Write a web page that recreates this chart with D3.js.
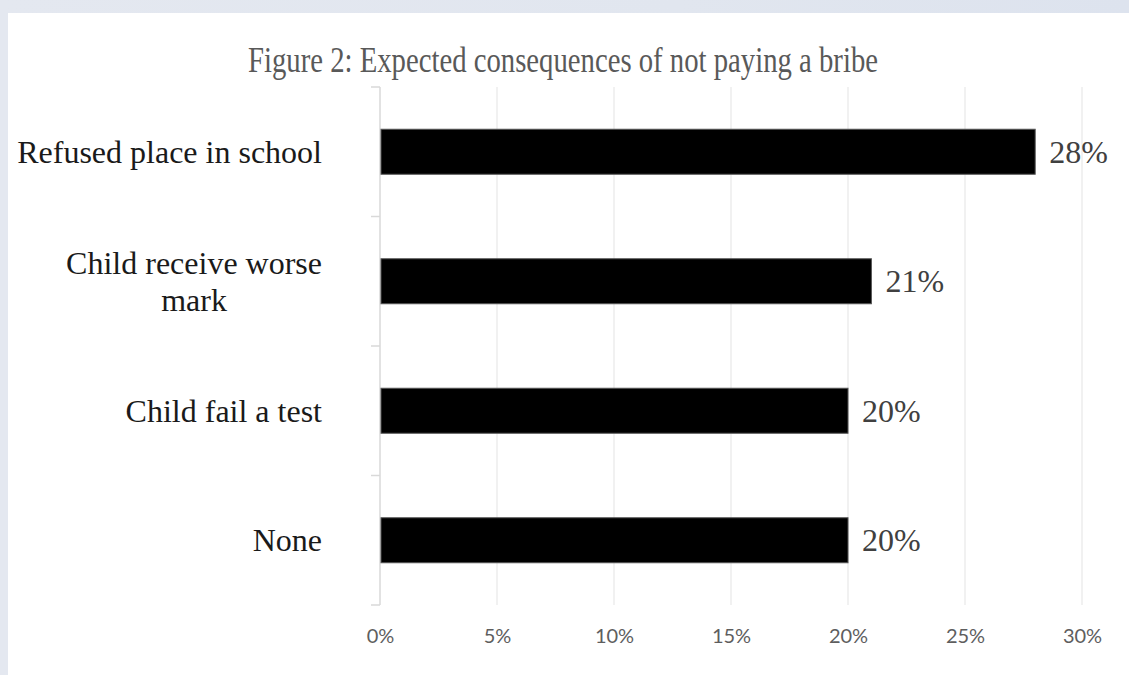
<!DOCTYPE html>
<html>
<head>
<meta charset="utf-8">
<script src="https://cdn.jsdelivr.net/npm/d3@7"></script>
<style>
  html, body { margin: 0; padding: 0; background: #e2e7f0; }
  svg { display: block; }
</style>
</head>
<body>
<svg id="chart" width="1129" height="675"></svg>
<script>
const title = "Figure 2: Expected consequences of not paying a bribe";
const categories = ["Refused place in school", "Child receive worse mark", "Child fail a test", "None"];
const categoryLines = [["Refused place in school"], ["Child receive worse", "mark"], ["Child fail a test"], ["None"]];
const values = [28, 21, 20, 20];
const valueLabels = ["28%", "21%", "20%", "20%"];
const tickValues = [0, 5, 10, 15, 20, 25, 30];
const tickLabels = ["0%", "5%", "10%", "15%", "20%", "25%", "30%"];

(function () {
const svg = d3.select("#chart");
const W = 1129, H = 675;

// background + white panel
const defs = svg.append("defs");
const grad = defs.append("linearGradient").attr("id", "bg").attr("x1", 0).attr("x2", 1).attr("y1", 0).attr("y2", 0);
grad.append("stop").attr("offset", "0%").attr("stop-color", "#e4e8f0");
grad.append("stop").attr("offset", "60%").attr("stop-color", "#e1e6ef");
grad.append("stop").attr("offset", "100%").attr("stop-color", "#dde3ee");
svg.append("rect").attr("width", W).attr("height", H).attr("fill", "url(#bg)");
svg.append("rect").attr("x", 8).attr("y", 13).attr("width", W - 8).attr("height", H - 13).attr("fill", "#ffffff");

const pLeft = 380, pRight = 1082, pTop = 87, pBottom = 605;

const x = d3.scaleLinear().domain([0, 30]).range([pLeft, pRight]);
const y = d3.scaleBand().domain(categories).range([pTop, pBottom]).paddingInner(0.6525).paddingOuter(0.6525 / 2);

// gridlines
svg.append("g").selectAll("line").data(tickValues.slice(1)).join("line")
  .attr("x1", d => x(d)).attr("x2", d => x(d))
  .attr("y1", pTop).attr("y2", pBottom)
  .attr("stroke", "#ececec").attr("stroke-width", 1.5);

// x tick labels
const xAxis = d3.axisBottom(x).tickValues(tickValues).tickFormat((d, i) => tickLabels[i]).tickSize(0).tickPadding(0);
const gx = svg.append("g").attr("transform", `translate(0,${pBottom})`).call(xAxis);
gx.select(".domain").remove();
gx.selectAll("text")
  .attr("y", 38).attr("dy", 0)
  .attr("fill", "#5e5e5e")
  .style("font-family", "Lato, 'Open Sans', sans-serif")
  .style("font-size", "20px");

// y axis line and ticks at band boundaries
svg.append("line").attr("x1", pLeft).attr("x2", pLeft).attr("y1", pTop).attr("y2", pBottom)
  .attr("stroke", "#d9d9d9").attr("stroke-width", 1.5);
const bounds = categories.map(c => y(c) - y.step() * y.paddingInner() / 2).concat([pBottom]);
svg.append("g").selectAll("line").data(bounds).join("line")
  .attr("x1", pLeft - 9).attr("x2", pLeft)
  .attr("y1", d => d).attr("y2", d => d)
  .attr("stroke", "#d9d9d9").attr("stroke-width", 1.5);

// bars
svg.append("g").selectAll("rect").data(categories).join("rect")
  .attr("x", x(0) + 1)
  .attr("y", d => y(d))
  .attr("width", (d, i) => x(values[i]) - x(0) - 1)
  .attr("height", y.bandwidth())
  .attr("fill", "#000000")
  .attr("stroke", "#555555").attr("stroke-width", 1);

// value labels
svg.append("g").selectAll("text").data(categories).join("text")
  .attr("x", (d, i) => x(values[i]) + 14)
  .attr("y", d => y(d) + y.bandwidth() / 2 + 11)
  .text((d, i) => valueLabels[i])
  .attr("fill", "#404040")
  .style("font-family", "'Liberation Serif', 'Times New Roman', serif")
  .style("font-size", "32px");

// category labels
const labelRight = 322;
const lineH = 37;
categories.forEach((c, i) => {
  const lines = categoryLines[i];
  const cy = y(c) + y.bandwidth() / 2;
  const g = svg.append("g");
  const texts = lines.map((ln, j) => g.append("text")
    .text(ln)
    .attr("y", cy + 11 + (j - (lines.length - 1) / 2) * lineH)
    .attr("fill", "#1a1a1a")
    .style("font-family", "'Liberation Serif', 'Times New Roman', serif")
    .style("font-size", "32px"));
  if (lines.length === 1) {
    texts[0].attr("x", labelRight).attr("text-anchor", "end");
  } else {
    const maxW = d3.max(texts, t => t.node().getComputedTextLength());
    texts.forEach(t => t.attr("x", labelRight - maxW / 2).attr("text-anchor", "middle"));
  }
});

// title (condensed, as in the reference)
svg.append("text")
  .attr("x", 563).attr("y", 72)
  .attr("text-anchor", "middle")
  .attr("textLength", 630)
  .attr("lengthAdjust", "spacingAndGlyphs")
  .text(title)
  .attr("fill", "#595959")
  .style("font-family", "'Liberation Serif', 'Times New Roman', serif")
  .style("font-size", "36px");
})();
</script>
</body>
</html>
